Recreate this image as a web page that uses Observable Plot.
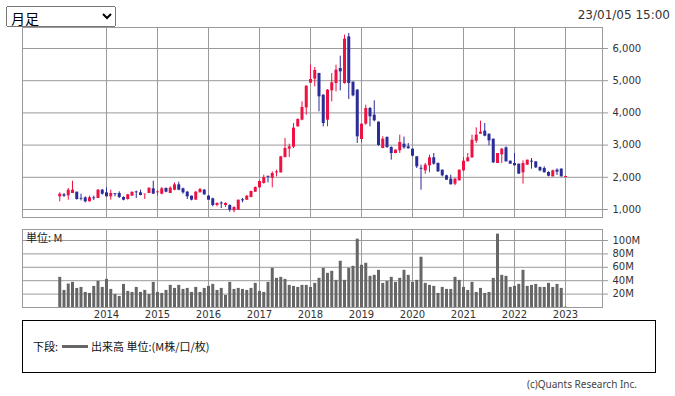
<!DOCTYPE html>
<html><head><meta charset="utf-8">
<script src="https://cdn.jsdelivr.net/npm/d3@7"></script>
<script src="https://cdn.jsdelivr.net/npm/@observablehq/plot@0.6"></script>
<style>
body{margin:0;background:#fff;font-family:"DejaVu Sans","Noto Sans CJK JP",sans-serif;}
#wrap{position:relative;width:675px;height:396px;overflow:hidden;background:#fff;}
#sel{position:absolute;left:6px;top:6px;width:110px;height:21px;font-size:14px;font-family:"Noto Sans CJK JP",sans-serif;}
#stamp{position:absolute;right:5px;top:8px;font-size:12px;color:#333;font-family:"DejaVu Sans",sans-serif;}
#price{position:absolute;left:0;top:0;}
#vol{position:absolute;left:0;top:222px;}
#unit{position:absolute;left:26px;top:229px;font-size:11px;color:#222;font-family:"Noto Sans CJK JP",sans-serif;}
#legend{position:absolute;left:22px;top:320px;width:634px;height:53px;border:1px solid #000;box-sizing:border-box;font-size:11px;color:#111;font-family:"Noto Sans CJK JP",sans-serif;}
#legend .row{position:absolute;left:10px;top:17px;display:flex;align-items:center;white-space:nowrap;}
#legend .sw{display:inline-block;width:26px;height:3px;background:#666;margin:0 3px 0 4px;}
#copy{position:absolute;right:38px;top:377px;font-size:10px;color:#444;font-family:"Noto Sans",sans-serif;}
</style></head>
<body>
<div id="wrap">
  <select id="sel"><option>月足</option></select>
  <div id="stamp">23/01/05 15:00</div>
  <div id="price"></div>
  <div id="vol"></div>
  <div id="unit">単位: M</div>
  <div id="legend"><div class="row"><span>下段: </span><span class="sw"></span><span>出来高 単位:(M株/口/枚)</span></div></div>
  <div id="copy">(c)Quants Research Inc.</div>
</div>
<script>
const startMonth = "2013-02-01";
const endMonth = "2023-02-01";
const open = [1393,1455,1424,1497,1538,1345,1362,1238,1360,1342,1600,1517,1393,1490,1497,1373,1311,1414,1545,1517,1462,1497,1642,1520,1476,1652,1497,1600,1766,1642,1538,1414,1290,1518,1600,1414,1331,1124,1200,1124,1124,959,979,
1300,1290,1373,1538,1673,1807,2030,1973,2135,2139,2615,2874,2936,3567,3774,4157,4923,5048,5224,4551,3774,4685,4913,5379,4913,6362,4954,4706,3174,3650,4137,3930,3712,2894,3236,2925,2739,2822,3029,2946,2874,2636,
2280,2201,2356,2605,2429,2222,2046,1942,1787,1890,2201,2480,2605,3122,3340,3433,3340,3184,2429,2698,2915,2501,2429,2408,2139,2377,2500,2480,2304,2273,2149,2014,2222,2253,1994];
const high = [1518,1497,1652,1880,1538,1476,1393,1414,1414,1621,1621,1673,1600,1497,1548,1393,1476,1538,1569,1600,1476,1663,1880,1580,1683,1673,1704,1828,1849,1663,1559,1414,1559,1652,1621,1435,1352,1207,1238,1207,1145,1083,1290,
1342,1430,1570,1700,1890,2066,2035,2170,2222,2650,3205,3029,3671,3816,4344,4840,5482,5410,5230,4560,4727,5224,5482,5762,6414,6466,4960,4727,3660,4240,4168,4375,3720,3257,3257,2946,2850,3308,3250,3050,2880,2640,
2377,2429,2687,2739,2449,2222,2066,2066,1963,2222,2615,2739,3308,3536,3743,3671,3340,3184,2739,2894,2946,2501,2739,2408,2511,2532,2584,2480,2325,2325,2170,2222,2263,2263,2035];
const low = [1238,1373,1290,1497,1290,1269,1207,1238,1280,1342,1445,1393,1290,1393,1342,1269,1290,1414,1342,1424,1311,1497,1476,1414,1455,1518,1497,1580,1580,1476,1311,1269,1290,1518,1445,1290,1083,1083,1031,1062,917,897,979,
1207,1280,1365,1530,1660,1787,1828,1673,2014,2130,2600,2615,2894,3560,3754,3930,4913,4810,4033,3567,3567,4344,4654,4685,4893,4416,4499,3050,3070,3619,3567,3723,2967,2890,2894,2532,2730,2739,2870,2880,2636,2273,
1600,2097,2139,2377,2149,2014,1911,1766,1735,1890,2170,2480,2584,3050,3340,3257,2977,2429,2429,2429,2480,2408,2356,2097,1787,2377,2253,2273,2170,2139,2014,2014,2056,2014,1994];
const close = [1476,1414,1600,1600,1311,1321,1238,1362,1335,1600,1476,1393,1497,1462,1373,1290,1455,1538,1520,1435,1476,1663,1476,1545,1642,1538,1663,1766,1600,1518,1393,1290,1538,1621,1455,1290,1124,1186,1170,1186,979,1062,1290,
1270,1414,1559,1683,1870,1994,2000,2118,2165,2636,2894,2946,3526,3795,4168,4830,5037,5317,4499,3671,4706,4934,5327,5275,6290,4913,4530,3257,3650,4137,3878,3754,2988,3184,2925,2739,2843,3081,2915,2884,2656,2325,
2250,2377,2605,2408,2170,2046,1911,1766,1942,2222,2501,2605,3153,3308,3402,3277,3132,2449,2739,2874,2480,2408,2356,2097,2429,2532,2470,2294,2201,2139,2035,2201,2160,2014,2025];
const volume = [45,25.5,35,37.5,28.5,30,22.5,21,31.5,39,30,42,27,19.5,16.5,34.5,24,22.5,30,22.5,25.5,19.5,37.5,22.5,
21,25.5,33,28.5,33,27,28.5,22.5,
30,22.5,28.5,31.5,34.5,25.5,28.5,18,37.5,27,28.5,27,25.5,28.5,36,24,22.5,37.5,58.5,43.5,45,42,33,31.5,30,33,33,30,36,43.5,58.5,51,54,40.5,69,
40.5,58.5,61.5,102,63,66,46.5,48,55.5,36,39,45,37.5,43.5,55.5,48,37.5,40.5,75,36,33,31.5,21,30,27,27,45,40.5,30,25.5,37.5,22.5,28.5,
21,22.5,43.5,109.5,48,46.5,30,31.5,34.5,55.5,31.5,33,34.5,30,30,36,30,34.5,28.5,0.5];
const yearTicks = [2014,2015,2016,2017,2018,2019,2020,2021,2022,2023];
const priceTicks = [1000,2000,3000,4000,5000,6000];
const volTicks = [20,40,60,80,100];

const UP = "#ee1144", DOWN = "#2b2b99", GRID = "#9a9a9a";
const months = d3.utcMonth.range(new Date(startMonth), new Date(endMonth));
// month index relative to Jan 2014
const mIdx = d => (d.getUTCFullYear() - 2014) * 12 + d.getUTCMonth();
const data = months.map((d, i) => ({
  m: mIdx(d), open: open[i], high: high[i], low: low[i], close: close[i], vol: volume[i],
  dir: close[i] >= open[i] ? "up" : "down"
}));
const yearIdx = yearTicks.map(y => (y - 2014) * 12);
const xDomain = [(22 - 106) / 4.25, (602 - 106) / 4.25];
const font = {fontFamily: "'DejaVu Sans', sans-serif", fontSize: "10px", color: "#333", background: "transparent"};

const price = Plot.plot({
  width: 675, height: 220, marginLeft: 22, marginRight: 73, marginTop: 27, marginBottom: 3,
  style: font,
  x: {type: "linear", domain: xDomain, axis: null},
  y: {type: "linear", domain: [751.6, 6652.2], axis: null},
  color: {domain: ["up", "down"], range: [UP, DOWN]},
  marks: [
    Plot.gridY(priceTicks, {stroke: GRID, strokeOpacity: 1}),
    Plot.gridX(yearIdx, {stroke: GRID, strokeOpacity: 1}),
    Plot.frame({stroke: GRID}),
    Plot.axisY(priceTicks, {anchor: "right", label: null, tickSize: 5, tickPadding: 5, stroke: GRID, fill: "#333", tickFormat: d3.format(",")}),
    Plot.ruleX(data, {x: "m", y1: "low", y2: "high", stroke: "dir", strokeWidth: 1}),
    Plot.ruleX(data, {x: "m", y1: "open", y2: "close", stroke: "dir", strokeWidth: 3})
  ]
});
document.getElementById("price").append(price);

const vol = Plot.plot({
  width: 675, height: 100, marginLeft: 22, marginRight: 73, marginTop: 7, marginBottom: 15,
  style: font,
  x: {type: "linear", domain: xDomain, axis: null},
  y: {type: "linear", domain: [0, 116.4], axis: null},
  marks: [
    Plot.gridY(volTicks, {stroke: GRID, strokeOpacity: 1}),
    Plot.gridX(yearIdx, {stroke: GRID, strokeOpacity: 1}),
    Plot.ruleX(data, {x: "m", y1: 0, y2: "vol", stroke: "#666", strokeWidth: 3}),
    Plot.frame({stroke: GRID}),
    Plot.axisY(volTicks, {anchor: "right", label: null, tickSize: 5, tickPadding: 5, stroke: GRID, fill: "#333", tickFormat: d => d + "M"}),
    Plot.axisX(yearIdx, {anchor: "bottom", label: null, tickSize: 0, tickPadding: 3, fill: "#333", tickFormat: m => String(2014 + m / 12)})
  ]
});
document.getElementById("vol").append(vol);
</script>
</body></html>
